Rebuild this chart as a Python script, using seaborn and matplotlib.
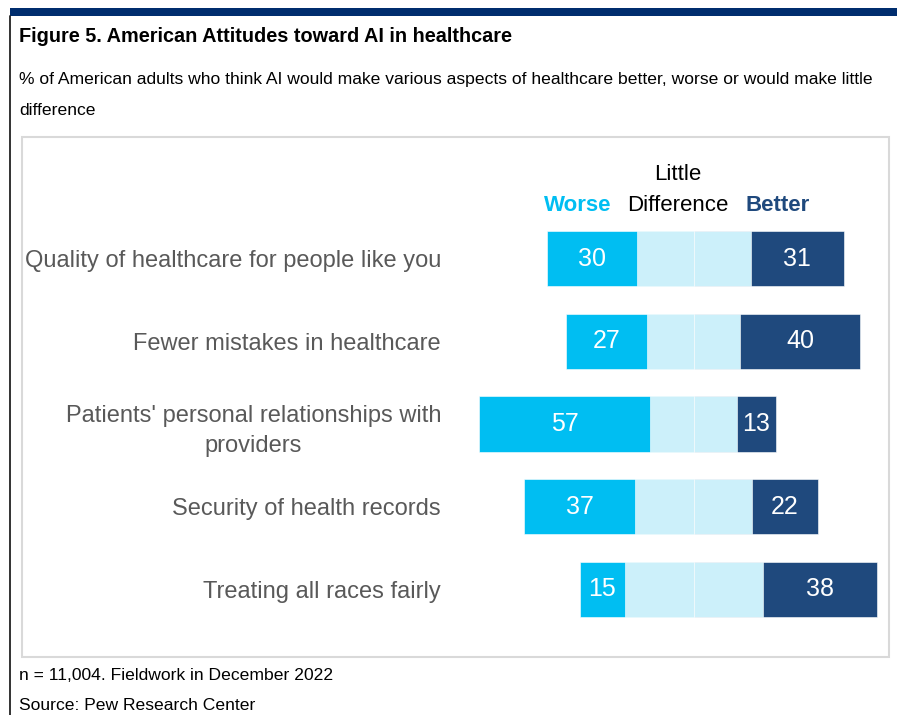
import matplotlib
matplotlib.use("Agg")
import matplotlib.pyplot as plt
from matplotlib.patches import Rectangle
from matplotlib.lines import Line2D
import seaborn as sns
import numpy as np
import pandas as pd

categories = [
    "Quality of healthcare for people like you",
    "Fewer mistakes in healthcare",
    "Patients' personal relationships with\nproviders",
    "Security of health records",
    "Treating all races fairly",
]
worse = [30, 27, 57, 37, 15]
little = [38, 31, 29, 39, 46]
better = [31, 40, 13, 22, 38]

title = "Figure 5. American Attitudes toward AI in healthcare"
subtitle1 = "% of American adults who think AI would make various aspects of healthcare better, worse or would make little"
subtitle2 = "difference"
note = "n = 11,004. Fieldwork in December 2022"
source = "Source: Pew Research Center"

C_WORSE = "#00BEF2"
C_LITTLE = "#CCF0FA"
C_BETTER = "#1F497D"
C_NAVY = "#002D6E"
C_LABEL = "#595959"

sns.set_theme(style="white")
FAM = ["Liberation Sans Narrow", "Liberation Sans", "DejaVu Sans"]
plt.rcParams["font.family"] = FAM

W, H = 897, 715
fig = plt.figure(figsize=(W / 100, H / 100), dpi=100)

def fx(px):
    return px / W

def fy(py):
    return 1 - py / H

# decorations
fig.patches.append(Rectangle((fx(10), fy(16)), fx(897) - fx(10), fy(8) - fy(16),
                             transform=fig.transFigure, color=C_NAVY, lw=0))
fig.lines.append(Line2D([fx(10), fx(10)], [fy(16), fy(715)], transform=fig.transFigure,
                        color="#222222", lw=1.3))
fig.patches.append(Rectangle((fx(22), fy(657)), fx(889) - fx(22), fy(137) - fy(657),
                             transform=fig.transFigure, fill=False, edgecolor="#D9D9D9", lw=1.5))

fig.text(fx(19), fy(42), title, fontsize=14.3, fontweight="bold", color="black", va="baseline")
fig.text(fx(19), fy(84), subtitle1, fontsize=12.6, color="black", va="baseline")
fig.text(fx(19), fy(115), subtitle2, fontsize=12.6, color="black", va="baseline")
fig.text(fx(19), fy(680), note, fontsize=12.6, color="black", va="baseline")
fig.text(fx(19), fy(710), source, fontsize=12.6, color="black", va="baseline")

# axes
ax_l, ax_r, ax_t, ax_b = 450, 885, 137, 657
center_px, ppu = 693.5, 3.0
ax = fig.add_axes([fx(ax_l), fy(ax_b), fx(ax_r) - fx(ax_l), fy(ax_t) - fy(ax_b)])

w = np.array(worse, dtype=float)
l = np.array(little, dtype=float)
b = np.array(better, dtype=float)

bw = 0.665
kw = dict(orient="h", width=bw, edgecolor="white", linewidth=0.4, ax=ax,
          errorbar=None, saturation=1)
sns.barplot(x=-(w + l / 2), y=categories, color=C_WORSE, **kw)
sns.barplot(x=(b + l / 2), y=categories, color=C_BETTER, **kw)
sns.barplot(x=-(l / 2), y=categories, color=C_LITTLE, **kw)
sns.barplot(x=(l / 2), y=categories, color=C_LITTLE, **kw)

ax.set_xlim((ax_l - center_px) / ppu, (ax_r - center_px) / ppu)
row0, step = 258.5, 82.75
ax.set_ylim((ax_b - row0) / step, (ax_t - row0) / step)

for i in range(len(categories)):
    ax.text(-(l[i] / 2 + w[i] / 2), i, f"{worse[i]}", ha="center", va="center",
            color="white", fontsize=18)
    ax.text(l[i] / 2 + b[i] / 2, i, f"{better[i]}", ha="center", va="center",
            color="white", fontsize=18)

ax.set_xlabel("")
ax.set_ylabel("")
ax.set_xticks([])
ax.tick_params(axis="y", length=0, pad=(ax_l - 441) * 0.72, labelsize=17, labelcolor=C_LABEL)
for t in ax.get_yticklabels():
    t.set_multialignment("center")
    t.set_linespacing(1.5)
for s in ax.spines.values():
    s.set_visible(False)
ax.patch.set_alpha(0)

# headers
fig.text(fx(578), fy(211), "Worse", ha="center", va="baseline", fontsize=16,
         fontweight="bold", color=C_WORSE)
fig.text(fx(678), fy(180), "Little", ha="center", va="baseline", fontsize=16, color="black")
fig.text(fx(678), fy(211), "Difference", ha="center", va="baseline", fontsize=16, color="black")
fig.text(fx(778), fy(211), "Better", ha="center", va="baseline", fontsize=16,
         fontweight="bold", color=C_BETTER)

fig.savefig("out.png", dpi=100)
